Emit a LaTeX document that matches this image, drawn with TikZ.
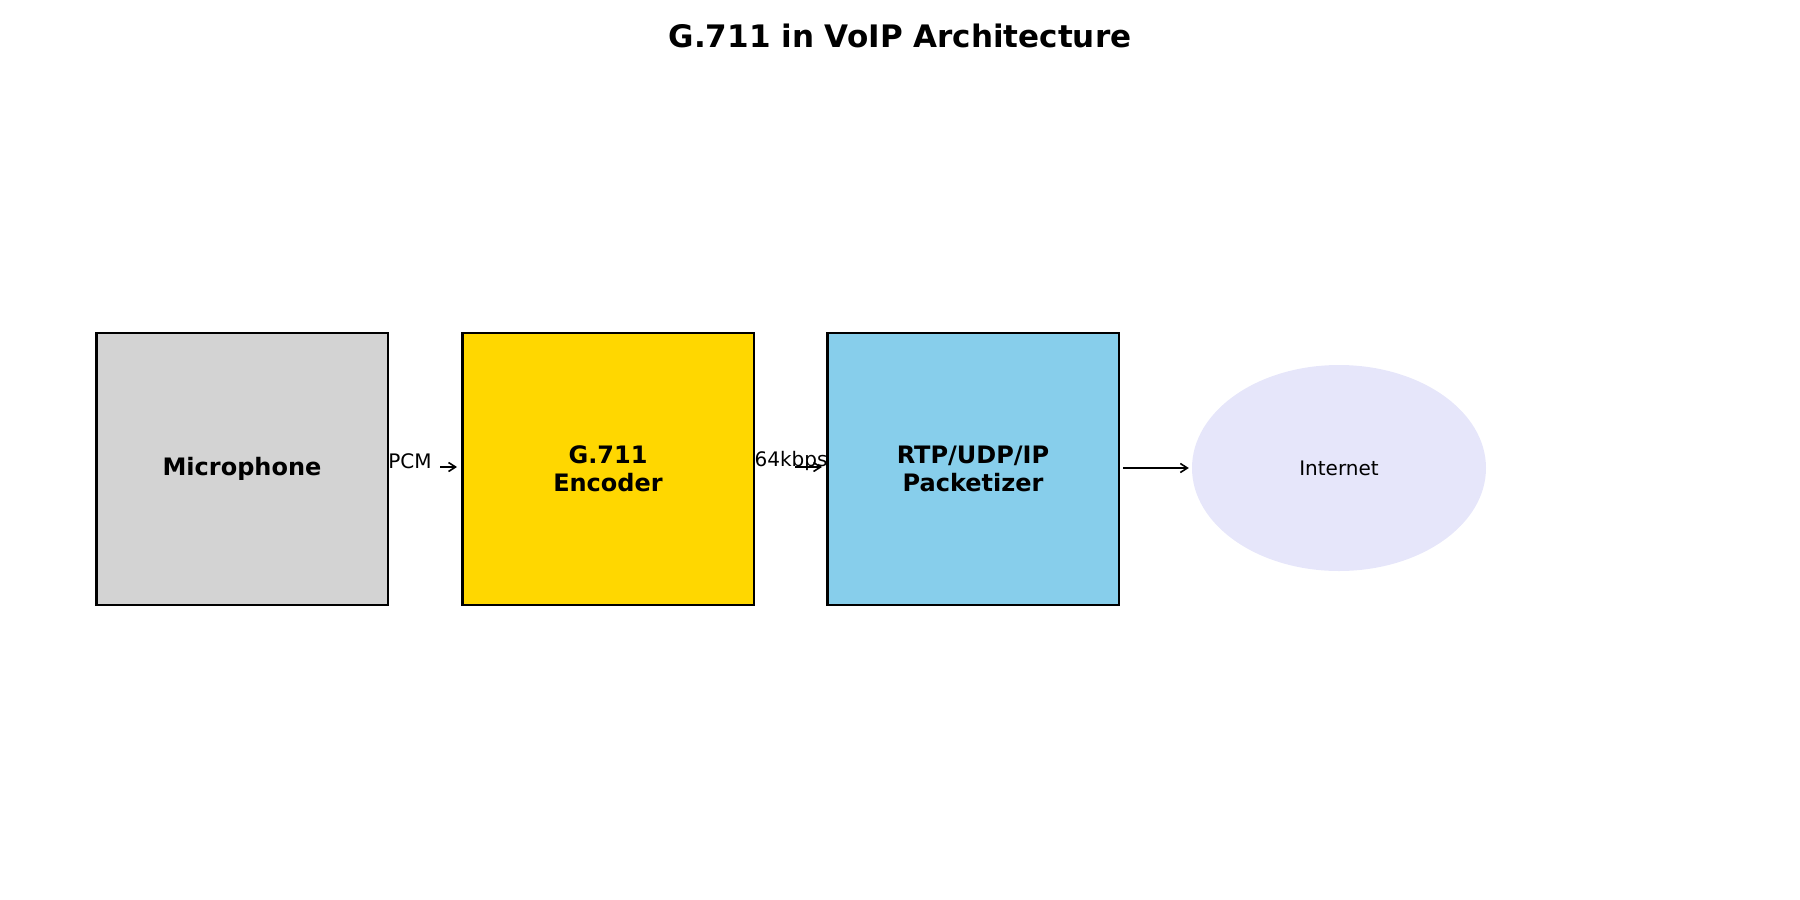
\documentclass[tikz,border=0pt]{standalone}
\usepackage{fontspec}
\setmainfont{DejaVu Sans}
\usetikzlibrary{shapes.geometric,arrows.meta}
\begin{document}
\begin{tikzpicture}[x=1pt,y=-1pt,
 box/.style={draw=black,line width=2.5pt,minimum width=291.5pt,minimum height=272pt,inner sep=0pt,align=center,font=\fontsize{24}{28}\selectfont\bfseries},
 lab/.style={font=\fontsize{20}{24}\selectfont,inner sep=0pt},
 arr/.style={-{Straight Barb[length=7pt,width=9pt]},line width=1.6pt}]
\useasboundingbox (0,0) rectangle (1800,900);
\node[font=\fontsize{31}{36}\selectfont\bfseries] (title) at (900,36) {G.711 in VoIP Architecture};
\node[box,fill={rgb,255:red,211;green,211;blue,211}] (mic) at (242,469) {Microphone};
\node[box,fill={rgb,255:red,255;green,215;blue,0}] (enc) at (608,469) {G.711\\Encoder};
\node[box,fill={rgb,255:red,135;green,206;blue,235}] (pack) at (973,469) {RTP/UDP/IP\\Packetizer};
\node[ellipse,fill={rgb,255:red,230;green,230;blue,250},minimum width=294pt,minimum height=206pt,inner sep=0pt,font=\fontsize{20}{24}\selectfont] (net) at (1339,468) {Internet};
\node[lab] (pcm) at (410,461) {PCM};
\node[lab] (kb) at (791,461) {64kbps};
\coordinate (a1) at (440,467);
\coordinate (b1) at (457,467);
\coordinate (a2) at (795,467);
\coordinate (b2) at (822,467);
\draw[arr] (a1) -- (b1);
\draw[arr] (a2) -- (b2);
\draw[arr] ([xshift=3pt]pack.east |- net.west) -- ([xshift=-3pt]net.west);
\end{tikzpicture}
\end{document}
